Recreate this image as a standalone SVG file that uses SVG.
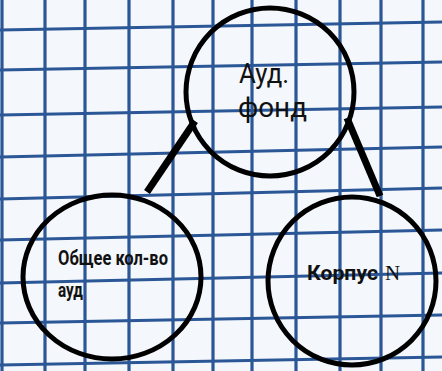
<svg xmlns="http://www.w3.org/2000/svg" width="442" height="371" viewBox="0 0 442 371">
<style>
.grid line{stroke:#2b5797;stroke-width:3.2}
.node{fill:none;stroke:#000;stroke-width:5}
.edge{stroke:#000;stroke-width:7;stroke-linecap:butt}
.t1{font-family:Roboto,"Liberation Sans",sans-serif;font-weight:400;font-size:28px;fill:#111}
.t2{font-family:Roboto,"Liberation Sans",sans-serif;font-weight:700;font-size:20px;fill:#111}
.t3{font-family:"Liberation Serif",serif;font-size:21px;fill:#111}
</style>
<rect width="442" height="371" fill="#f4f7fc"/>
<g class="grid">
<line x1="2" y1="0" x2="2" y2="371"/>
<line x1="45" y1="0" x2="45" y2="371"/>
<line x1="85" y1="0" x2="85" y2="371"/>
<line x1="129" y1="0" x2="129" y2="371"/>
<line x1="173" y1="0" x2="173" y2="371"/>
<line x1="213" y1="0" x2="213" y2="371"/>
<line x1="252" y1="0" x2="252" y2="371"/>
<line x1="296" y1="0" x2="296" y2="371"/>
<line x1="340" y1="0" x2="340" y2="371"/>
<line x1="381" y1="0" x2="381" y2="371"/>
<line x1="423" y1="0" x2="423" y2="371"/>
<line x1="0" y1="30" x2="442" y2="22"/>
<line x1="0" y1="70" x2="442" y2="62"/>
<line x1="0" y1="115" x2="442" y2="107"/>
<line x1="0" y1="157" x2="442" y2="147"/>
<line x1="0" y1="199" x2="442" y2="188"/>
<line x1="0" y1="240" x2="442" y2="230"/>
<line x1="0" y1="283" x2="442" y2="273"/>
<line x1="0" y1="323" x2="442" y2="315"/>
<line x1="0" y1="365" x2="442" y2="357"/>
</g>
<g id="connectors">
<line class="edge" x1="147" y1="192" x2="195" y2="121"/>
<line class="edge" x1="347" y1="118" x2="380" y2="196"/>
</g>
<g id="node-aud-fond">
<circle class="node" cx="270" cy="92" r="84"/>
<text class="t1" x="239" y="83" textLength="50" lengthAdjust="spacingAndGlyphs">Ауд.</text>
<text class="t1" x="238" y="117" textLength="69" lengthAdjust="spacingAndGlyphs">фонд</text>
</g>
<g id="node-obshee">
<ellipse class="node" cx="112" cy="277" rx="89" ry="82"/>
<text class="t2" x="58" y="265" textLength="110" lengthAdjust="spacingAndGlyphs">Общее кол-во</text>
<text class="t2" x="58" y="297" textLength="25" lengthAdjust="spacingAndGlyphs">ауд</text>
</g>
<g id="node-korpus">
<circle class="node" cx="352" cy="281" r="84"/>
<text class="t2" x="307" y="280" textLength="71" lengthAdjust="spacingAndGlyphs">Корпус</text>
<text class="t3" x="385" y="280">N</text>
</g>
</svg>
